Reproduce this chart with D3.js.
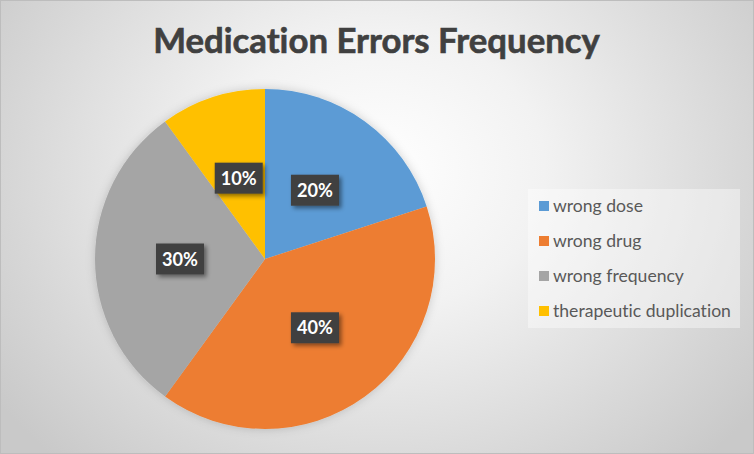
<!DOCTYPE html>
<html><head><meta charset="utf-8">
<script src="https://cdn.jsdelivr.net/npm/d3@7"></script>
<style>html,body{margin:0;padding:0;background:#fff;}svg{display:block;}text{font-variant-ligatures:none;font-feature-settings:"liga" 0,"clig" 0;}</style>
</head><body>
<script>
const title = "Medication Errors Frequency";
const categories = ["wrong dose", "wrong drug", "wrong frequency", "therapeutic duplication"];
const values = [20, 40, 30, 10];
const labels = ["20%", "40%", "30%", "10%"];
const colors = ["#5B9BD5", "#ED7D31", "#A5A5A5", "#FFC000"];

const W = 754, H = 454;
const svg = d3.select("body").append("svg").attr("width", W).attr("height", H);
const defs = svg.append("defs");

const bg = defs.append("radialGradient").attr("id", "bg")
  .attr("gradientUnits", "userSpaceOnUse")
  .attr("cx", 380).attr("cy", 170).attr("r", 470)
  .attr("gradientTransform", "translate(380,170) scale(1,0.85) translate(-380,-170)");
bg.append("stop").attr("offset", "0").attr("stop-color", "#ffffff");
bg.append("stop").attr("offset", "0.35").attr("stop-color", "#f2f2f2");
bg.append("stop").attr("offset", "1").attr("stop-color", "#c9c9c9");

const sh = defs.append("filter").attr("id", "lblShadow").attr("x", "-30%").attr("y", "-30%").attr("width", "160%").attr("height", "160%");
sh.append("feDropShadow").attr("dx", 2.5).attr("dy", 2.5).attr("stdDeviation", 2).attr("flood-color", "#000").attr("flood-opacity", 0.45);

const psh = defs.append("filter").attr("id", "pieShadow").attr("x", "-20%").attr("y", "-20%").attr("width", "140%").attr("height", "140%");
psh.append("feDropShadow").attr("dx", 0).attr("dy", 0).attr("stdDeviation", 5).attr("flood-color", "#000").attr("flood-opacity", 0.18);

svg.append("rect").attr("x", 0).attr("y", 0).attr("width", W).attr("height", H).attr("fill", "url(#bg)");
svg.append("rect").attr("x", 0.5).attr("y", 0.5).attr("width", W - 1).attr("height", H - 1)
  .attr("fill", "none").attr("stroke", "#bdbdbd").attr("stroke-width", 1);

// Title
const t = svg.append("text").attr("x", 377).attr("y", 53).attr("text-anchor", "middle")
  .attr("font-family", "Lato, 'Open Sans', sans-serif").attr("font-weight", 700)
  .attr("font-size", 36).attr("fill", "#404040")
  .attr("stroke", "#404040").attr("stroke-width", 0.6).text(title);
{
  const w = t.node().getComputedTextLength();
  t.attr("font-size", 36 * 447 / w);
  t.attr("x", 153 + 447 / 2);
}

// Pie
const cx = 265, cy = 259, R = 170;
const pie = d3.pie().sort(null).value(d => d);
const arcs = pie(values);
const arc = d3.arc().innerRadius(0).outerRadius(R);
const g = svg.append("g").attr("transform", `translate(${cx},${cy})`);
g.append("g").attr("filter", "url(#pieShadow)")
  .selectAll("path").data(arcs).join("path")
  .attr("d", arc).attr("fill", (d, i) => colors[i]);

// Data labels
const lbl = g.selectAll("g.lbl").data(arcs).join("g").attr("class", "lbl")
  .attr("transform", d => { const c = arc.centroid(d); return `translate(${c[0]},${c[1]})`; });
lbl.append("rect").attr("x", -24).attr("y", -15.5).attr("width", 48).attr("height", 31)
  .attr("fill", "#404040").attr("filter", "url(#lblShadow)");
lbl.append("text").attr("text-anchor", "middle").attr("y", 6.5)
  .attr("font-family", "Lato, sans-serif").attr("font-weight", 700).attr("font-size", 18)
  .attr("fill", "#ffffff").text((d, i) => labels[i])
  .each(function () {
    const w = this.getComputedTextLength();
    d3.select(this).attr("font-size", 18 * 36 / w);
  });

// Legend
const lg = svg.append("g");
lg.append("rect").attr("x", 528).attr("y", 189).attr("width", 212).attr("height", 139)
  .attr("fill", "#ffffff").attr("fill-opacity", 0.4);
const rowY = d3.scalePoint().domain(categories).range([206, 311]);
const items = lg.selectAll("g.it").data(categories).join("g").attr("class", "it")
  .attr("transform", d => `translate(539,${rowY(d)})`);
items.append("rect").attr("x", 0).attr("y", -5).attr("width", 10).attr("height", 10)
  .attr("fill", (d, i) => colors[i]);
const lt = items.append("text").attr("x", 14).attr("y", 6)
  .attr("font-family", "Lato, sans-serif").attr("font-size", 16).attr("fill", "#595959")
  .text(d => d);
{
  const w = lt.filter((d, i) => i === 3).node().getComputedTextLength();
  lt.attr("font-size", 16 * 178 / w);
}
</script>
</body></html>
